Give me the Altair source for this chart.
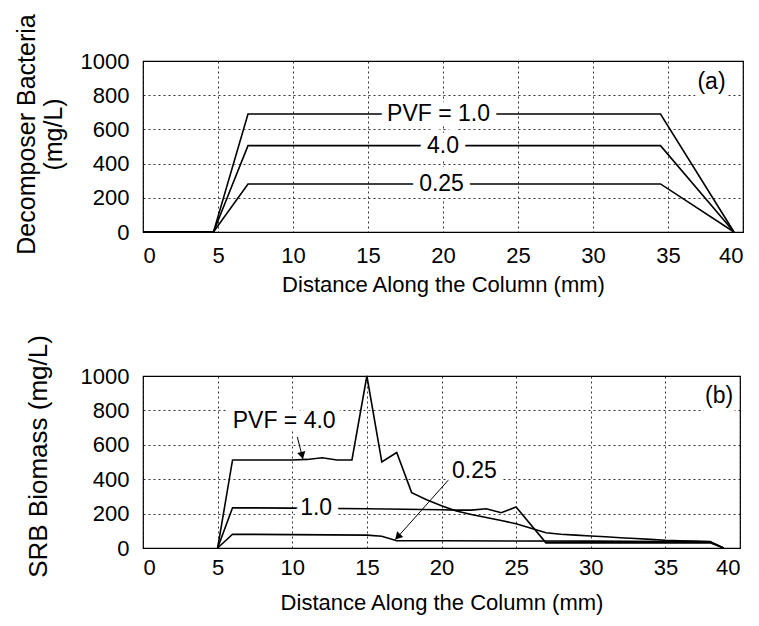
import altair as alt
import pandas as pd

# ---------- Panel (a): Decomposer bacteria ----------
xa = [0, 4.7, 7, 34.5, 39.4]
dec_pvf_10 = [0, 0, 690, 690, 0]
dec_pvf_40 = [0, 0, 505, 505, 0]
dec_pvf_025 = [0, 0, 281, 281, 0]

labels_a = ["PVF = 1.0", "4.0", "0.25", "(a)"]
labels_a_x = [19.7, 20.0, 19.9, 37.9]
labels_a_y = [690, 505, 281, 875]

# ---------- Panel (b): SRB biomass ----------
xb_40 = [5, 6, 7, 8, 9, 10, 11, 12, 13, 14, 15, 16, 17, 18, 19, 20, 21, 22, 23,
         24, 25, 26, 27, 28, 29, 30, 31, 32, 33, 34, 35, 36, 37, 38, 38.9]
srb_pvf_40 = [0, 512, 512, 512, 512, 512, 515, 525, 512, 512, 1000, 500, 555, 322,
              280, 245, 215, 195, 177, 160, 141, 115, 89, 80, 75, 70, 65, 60, 55,
              50, 45, 42, 40, 38, 0]
xb_10 = [5, 6, 10, 15, 20, 21, 22, 23, 24, 25, 27, 30, 35, 38, 38.9]
srb_pvf_10 = [0, 234, 232, 228, 222, 220, 220, 228, 205, 238, 30, 30, 30, 30, 0]
xb_025 = [5, 6, 10, 15, 16, 17, 20, 25, 30, 35, 38, 38.9]
srb_pvf_025 = [0, 80, 78, 75, 68, 42, 42, 41, 40, 38, 35, 0]

labels_b = ["PVF = 4.0", "1.0", "0.25", "(b)"]
labels_b_x = [9.46, 11.6, 22.2, 38.6]
labels_b_y = [738, 234, 448, 884]

# arrows: tail -> tip, and head position/angle
arrow_tail_x = [10.34, 20.45]
arrow_tail_y = [645, 394]
arrow_tip_x = [10.72, 16.9]
arrow_tip_y = [516, 48]
arrow_head_x = [10.64, 17.12]
arrow_head_y = [544, 70]
arrow_head_angle = [166, 223]

FONT = "Liberation Sans"
x_ticks = [0, 5, 10, 15, 20, 25, 30, 35, 40]
y_ticks = [0, 200, 400, 600, 800, 1000]


def long_df(pairs):
    rows = []
    for name, xs, ys in pairs:
        for xv, yv in zip(xs, ys):
            rows.append({"series": name, "x": xv, "y": yv})
    return pd.DataFrame(rows)


df_a = long_df([("1.0", xa, dec_pvf_10), ("4.0", xa, dec_pvf_40), ("0.25", xa, dec_pvf_025)])
df_b = long_df([("4.0", xb_40, srb_pvf_40), ("1.0", xb_10, srb_pvf_10), ("0.25", xb_025, srb_pvf_025)])
lab_a = pd.DataFrame({"text": labels_a, "x": labels_a_x, "y": labels_a_y})
lab_b = pd.DataFrame({"text": labels_b, "x": labels_b_x, "y": labels_b_y})

arr_rows = []
for i in range(len(arrow_tail_x)):
    arr_rows.append({"id": i, "o": 0, "x": arrow_tail_x[i], "y": arrow_tail_y[i]})
    arr_rows.append({"id": i, "o": 1, "x": arrow_tip_x[i], "y": arrow_tip_y[i]})
arr_df = pd.DataFrame(arr_rows)
head_df = pd.DataFrame({"x": arrow_head_x, "y": arrow_head_y, "angle": arrow_head_angle})


def panel(df, labs, ytitle, title_y, title_size, title_pad, xlab_pad, xtitle_pad, w, h,
          extra=None):
    X = alt.X("x:Q", scale=alt.Scale(domain=[0, 40], nice=False),
              axis=alt.Axis(values=x_ticks, title="Distance Along the Column (mm)",
                            labelOverlap=False, labelPadding=xlab_pad,
                            titlePadding=xtitle_pad))
    Y = alt.Y("y:Q", scale=alt.Scale(domain=[0, 1000], nice=False),
              axis=alt.Axis(values=y_ticks, title=ytitle, titleY=title_y, format="d",
                            titleFontSize=title_size, titlePadding=title_pad,
                            labelOverlap=False, labelBound=False))
    base_lines = alt.Chart(df).mark_line(color="black", strokeWidth=1.6).encode(
        x=X, y=Y, detail="series:N", order="x:Q")
    halo = alt.Chart(labs).mark_text(font=FONT, fontSize=23, stroke="white", strokeWidth=14,
                                     strokeJoin="round", fill="white").encode(
        x=X, y=Y, text="text:N")
    txt = alt.Chart(labs).mark_text(font=FONT, fontSize=23, color="black").encode(
        x=X, y=Y, text="text:N")
    layers = [base_lines, halo, txt]
    if extra is not None:
        layers += [e.encode(x=X, y=Y) for e in extra]
    return alt.layer(*layers).properties(width=w, height=h)


arrow_lines = alt.Chart(arr_df).mark_line(color="black", strokeWidth=1).encode(
    detail="id:N", order="o:Q")
arrow_heads = alt.Chart(head_df).mark_point(shape="triangle", filled=True, color="black",
                                            size=70, opacity=1).encode(
    angle=alt.Angle("angle:Q", scale=None))

top = panel(df_a, lab_a, ["Decomposer Bacteria", "(mg/L)"], 73, 25, 14, 13, 8, 600, 171)
bottom = panel(df_b, lab_b, "SRB Biomass (mg/L)", 80, 26, 29, 9, 14, 597, 172,
               [arrow_lines, arrow_heads])

chart = alt.vconcat(top, bottom, spacing=38).configure_view(
    stroke="black", strokeWidth=1.2
).configure_axis(
    grid=True, gridColor="black", gridDash=[2, 3], gridWidth=1, gridOpacity=0.8,
    domain=False, ticks=False, labelOverlap=False,
    labelFont=FONT, labelFontSize=22, labelColor="black",
    titleFont=FONT, titleFontWeight="normal", titleColor="black"
).configure_axisX(
    titleFontSize=22
).configure_axisY(
    titleLineHeight=27, labelPadding=14
).properties(background="white")

chart.save("out.html", embed_options={"renderer": "svg", "actions": False})
